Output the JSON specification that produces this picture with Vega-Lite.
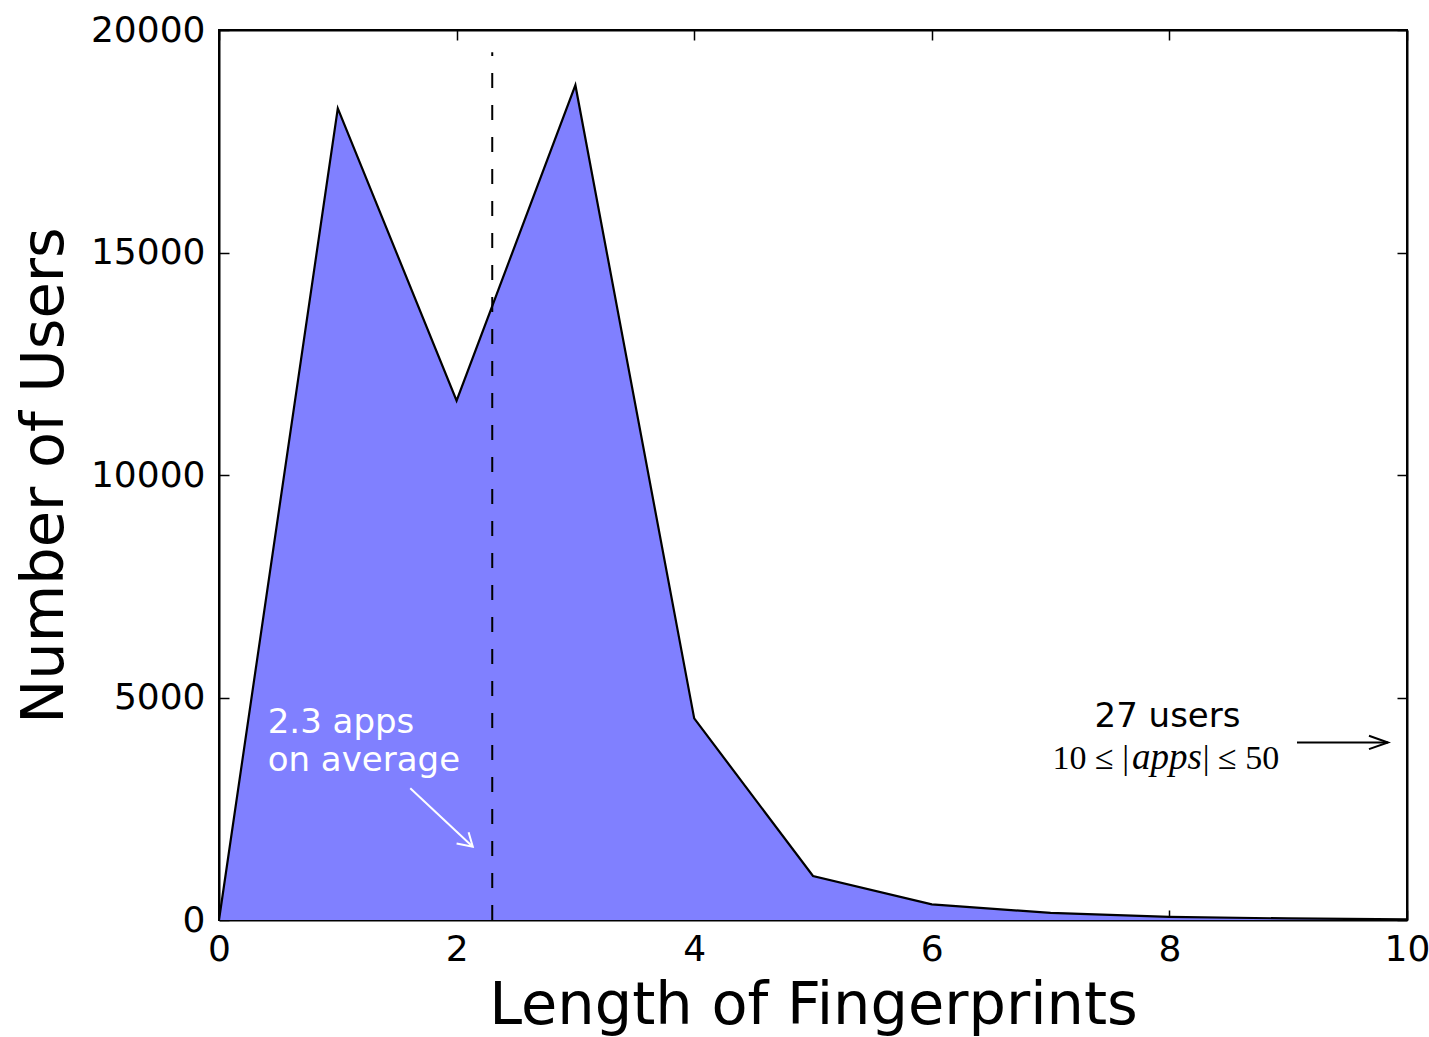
{
  "$schema": "https://vega.github.io/schema/vega-lite/v6.json",
  "width": 1188,
  "height": 890,
  "autosize": {"type": "none"},
  "padding": {"left": 219, "top": 30, "right": 22, "bottom": 117},
  "background": "white",
  "config": {
    "font": "DejaVu Sans",
    "view": {"stroke": "black", "strokeWidth": 2},
    "axis": {
      "grid": false,
      "domainColor": "black",
      "domainWidth": 2,
      "tickColor": "black",
      "tickWidth": 1.5,
      "tickSize": -10,
      "labelFont": "DejaVu Sans",
      "labelFontSize": 36,
      "labelColor": "black",
      "labelFlush": false,
      "labelOverlap": false,
      "titleFont": "DejaVu Sans",
      "titleFontSize": 59,
      "titleFontWeight": "normal",
      "titleColor": "black",
      "zindex": 1
    }
  },
  "datasets": {
    "lengths": [
      {"length": 0, "users": 0},
      {"length": 1, "users": 18240},
      {"length": 2, "users": 11670},
      {"length": 3, "users": 18760},
      {"length": 4, "users": 4530},
      {"length": 5, "users": 990},
      {"length": 6, "users": 350},
      {"length": 7, "users": 160},
      {"length": 8, "users": 70},
      {"length": 9, "users": 35},
      {"length": 10, "users": 15}
    ],
    "mean": [{"length": 2.3, "lo": 0, "hi": 19500}],
    "whiteArrow": [
      {"seg": "shaft", "ord": 0, "x": 1.610, "y": 2960},
      {"seg": "shaft", "ord": 1, "x": 2.136, "y": 1647},
      {"seg": "head", "ord": 0, "x": 2.000, "y": 1720},
      {"seg": "head", "ord": 1, "x": 2.136, "y": 1647},
      {"seg": "head", "ord": 2, "x": 2.101, "y": 1970}
    ],
    "blackArrow": [
      {"seg": "shaft", "ord": 0, "x": 9.074, "y": 3990},
      {"seg": "shaft", "ord": 1, "x": 9.840, "y": 3990},
      {"seg": "head", "ord": 0, "x": 9.680, "y": 4140},
      {"seg": "head", "ord": 1, "x": 9.840, "y": 3990},
      {"seg": "head", "ord": 2, "x": 9.680, "y": 3840}
    ],
    "avgNote": [
      {"x": 0.41, "y": 4200, "label": "2.3 apps"},
      {"x": 0.41, "y": 3350, "label": "on average"}
    ],
    "usersNote": [{"x": 7.984, "y": 4344, "label": "27 users"}],
    "rangeLeft": [{"x": 7.66, "y": 3393, "label": "10 ≤ |"}],
    "rangeMid": [{"x": 7.98, "y": 3393, "label": "apps"}],
    "rangeRight": [{"x": 8.28, "y": 3393, "label": "| ≤ 50"}],
    "frame": [{"x": 0, "y": 0}]
  },
  "layer": [
    {
      "encoding": {
        "x": {
          "type": "quantitative",
          "scale": {"domain": [0, 10], "nice": false, "zero": false}
        },
        "y": {
          "type": "quantitative",
          "scale": {"domain": [0, 20000], "nice": false}
        }
      },
      "layer": [
        {
          "data": {"name": "lengths"},
          "mark": {"type": "area", "color": "#8080ff", "opacity": 1},
          "encoding": {
            "x": {
              "field": "length",
              "type": "quantitative",
              "title": "Length of Fingerprints",
              "axis": {
                "orient": "bottom",
                "values": [0, 2, 4, 6, 8, 10],
                "format": "d",
                "labelPadding": 22,
                "titlePadding": 9
              }
            },
            "y": {
              "field": "users",
              "type": "quantitative",
              "title": "Number of Users",
              "axis": {
                "orient": "left",
                "values": [0, 5000, 10000, 15000, 20000],
                "format": "d",
                "labelPadding": 24,
                "titlePadding": 16
              }
            }
          }
        },
        {
          "data": {"name": "lengths"},
          "mark": {"type": "line", "color": "black", "strokeWidth": 2.2},
          "encoding": {
            "x": {"field": "length", "type": "quantitative"},
            "y": {"field": "users", "type": "quantitative"}
          }
        },
        {
          "data": {"name": "mean"},
          "mark": {"type": "rule", "color": "black", "strokeWidth": 2, "strokeDash": [15, 17]},
          "encoding": {
            "x": {"field": "length", "type": "quantitative"},
            "y": {"field": "lo", "type": "quantitative"},
            "y2": {"field": "hi"}
          }
        },
        {
          "data": {"name": "whiteArrow"},
          "mark": {"type": "line", "color": "white", "strokeWidth": 2},
          "encoding": {
            "x": {"field": "x", "type": "quantitative"},
            "y": {"field": "y", "type": "quantitative"},
            "detail": {"field": "seg"},
            "order": {"field": "ord"}
          }
        },
        {
          "data": {"name": "blackArrow"},
          "mark": {"type": "line", "color": "black", "strokeWidth": 2},
          "encoding": {
            "x": {"field": "x", "type": "quantitative"},
            "y": {"field": "y", "type": "quantitative"},
            "detail": {"field": "seg"},
            "order": {"field": "ord"}
          }
        },
        {
          "data": {"name": "avgNote"},
          "mark": {"type": "text", "color": "white", "fontSize": 34, "align": "left", "baseline": "alphabetic", "font": "DejaVu Sans"},
          "encoding": {
            "x": {"field": "x", "type": "quantitative"},
            "y": {"field": "y", "type": "quantitative"},
            "text": {"field": "label"}
          }
        },
        {
          "data": {"name": "usersNote"},
          "mark": {"type": "text", "color": "black", "fontSize": 34, "align": "center", "baseline": "alphabetic", "font": "DejaVu Sans"},
          "encoding": {
            "x": {"field": "x", "type": "quantitative"},
            "y": {"field": "y", "type": "quantitative"},
            "text": {"field": "label"}
          }
        },
        {
          "data": {"name": "rangeLeft"},
          "mark": {"type": "text", "color": "black", "fontSize": 34, "align": "right", "baseline": "alphabetic", "font": "Liberation Serif"},
          "encoding": {
            "x": {"field": "x", "type": "quantitative"},
            "y": {"field": "y", "type": "quantitative"},
            "text": {"field": "label"}
          }
        },
        {
          "data": {"name": "rangeMid"},
          "mark": {"type": "text", "color": "black", "fontSize": 37, "fontStyle": "italic", "align": "center", "baseline": "alphabetic", "font": "Liberation Serif"},
          "encoding": {
            "x": {"field": "x", "type": "quantitative"},
            "y": {"field": "y", "type": "quantitative"},
            "text": {"field": "label"}
          }
        },
        {
          "data": {"name": "rangeRight"},
          "mark": {"type": "text", "color": "black", "fontSize": 34, "align": "left", "baseline": "alphabetic", "font": "Liberation Serif"},
          "encoding": {
            "x": {"field": "x", "type": "quantitative"},
            "y": {"field": "y", "type": "quantitative"},
            "text": {"field": "label"}
          }
        }
      ]
    },
    {
      "data": {"name": "frame"},
      "mark": {"type": "point", "opacity": 0},
      "encoding": {
        "x": {
          "field": "x",
          "type": "quantitative",
          "scale": {"domain": [0, 10], "nice": false, "zero": false},
          "axis": {"orient": "top", "values": [0, 2, 4, 6, 8, 10], "labels": false, "title": null}
        },
        "y": {
          "field": "y",
          "type": "quantitative",
          "scale": {"domain": [0, 20000], "nice": false},
          "axis": {"orient": "right", "values": [0, 5000, 10000, 15000, 20000], "labels": false, "title": null}
        }
      }
    }
  ],
  "resolve": {"scale": {"x": "independent", "y": "independent"}}
}
